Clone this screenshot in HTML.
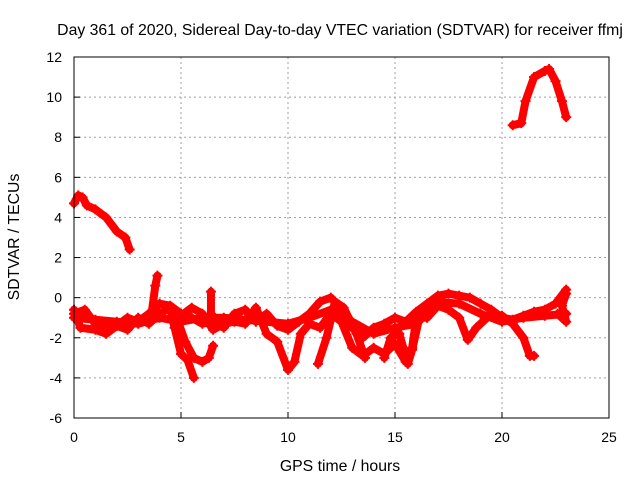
<!DOCTYPE html>
<html><head><meta charset="utf-8"><style>
body{margin:0;background:#fff}
svg text{font-family:"Liberation Sans",sans-serif;font-size:14px;fill:#000}
svg text.big{font-size:15.8px}
</style></head><body>
<svg id="chart" width="640" height="480" viewBox="0 0 640 480" xmlns="http://www.w3.org/2000/svg">
<rect width="640" height="480" fill="#fff"/>
<g id="grid"></g>
<g id="series"></g>
<rect x="74" y="57" width="535" height="361" fill="none" stroke="#000" stroke-width="1"/>
<g id="ticks"></g>
<text class="big" x="340" y="35" text-anchor="middle">Day 361 of 2020, Sidereal Day-to-day VTEC variation (SDTVAR) for receiver ffmj</text>
<text class="big" x="340" y="471" text-anchor="middle">GPS time / hours</text>
<text class="big" transform="translate(19,237) rotate(-90)" text-anchor="middle">SDTVAR / TECUs</text>
</svg>
<script>
const xTicks=[0,5,10,15,20,25];
const yTicks=[-6,-4,-2,0,2,4,6,8,10,12];
const trackTopLeft=[[0,4.7],[0.2,5.1],[0.4,5.0],[0.6,4.6],[1,4.4],[1.5,4.0],[2,3.3],[2.4,3.0],[2.6,2.4]];
const trackTopRight=[[20.5,8.6],[20.9,8.7],[21.1,9.8],[21.5,11.0],[22,11.3],[22.2,11.4],[22.5,10.8],[22.8,9.8],[23,9.0]];
const trackUpper=[[0,-0.8],[0.5,-0.6],[1,-1.3],[1.5,-1.5],[2,-1.4],[2.5,-1.0],[3,-1.2],[3.5,-0.8],[4,-0.3],[4.5,-0.4],[5,-0.8],[5.5,-1.0],[6,-1.3],[6.5,-1.2],[7,-1.5],[7.5,-0.8],[8,-0.6],[8.5,-1.2],[9,-0.8],[9.5,-1.4],[10,-1.6],[10.5,-1.2],[11,-0.8],[11.5,-0.2],[12,0],[12.5,-0.6],[13,-1.5],[13.5,-2.0],[14,-1.5],[14.5,-1.3],[15,-1.0],[15.5,-1.2],[16,-0.7],[16.5,-0.3],[17,0.1],[17.5,0.2],[18,0.1],[18.5,0.0],[19,-0.3],[19.5,-0.6],[20,-1.0],[20.5,-1.1],[21,-0.9],[21.5,-0.7],[22,-0.6],[22.5,-0.3],[23,0.4]];
const trackLower=[[0,-0.6],[0.3,-1.5],[1,-1.6],[1.5,-1.8],[2,-1.4],[2.5,-1.6],[3,-1.0],[3.5,-1.3],[4,-0.8],[4.5,-0.5],[5,-0.9],[5.5,-0.5],[6,-0.8],[6.5,-1.6],[7,-1.3],[7.5,-1.2],[8,-1.3],[8.5,-0.5],[9,-1.8],[9.5,-2.2],[10,-3.6],[10.3,-3.2],[10.6,-1.8],[11,-1.3],[11.5,-1.5],[12,-0.8],[12.5,-1.2],[13,-2.5],[13.5,-2.9],[14,-2.5],[14.5,-2.8],[15,-2.3],[15.5,-3.2],[15.8,-2.5],[16,-1.0],[16.5,-1.0],[17,-0.4],[17.5,-0.6],[18,-1.0],[18.4,-2.1],[18.8,-1.5],[19.5,-0.8],[20,-0.9],[20.5,-1.3],[21,-2.0],[21.3,-2.9],[21.5,-2.9]];
const trackMiddle=[[0,-1.0],[1,-1.1],[2,-1.2],[3,-1.3],[4,-1.0],[5,-1.2],[6,-1.0],[7,-1.0],[8,-1.1],[9,-1.2],[10,-1.3],[11,-1.0],[12,-0.6],[13,-1.2],[14,-1.8],[15,-1.5],[16,-1.3],[17,-0.2],[18,-0.3],[19,-0.8],[20,-1.2],[21,-1.0],[22,-0.9],[23,-0.8]];
const trackSpike=[[3.6,-1.0],[3.8,0.6],[3.9,1.1]];
const trackDipA=[[4.5,-0.6],[4.7,-1.5],[5,-2.8],[5.3,-3.1],[5.6,-4.0]];
const trackDipB=[[4.8,-1.0],[5.2,-2.2],[5.6,-3.0],[6,-3.2],[6.3,-3.0],[6.5,-2.4]];
const trackSmallSpike=[[6.4,-0.8],[6.4,0.3]];
const trackMidA=[[11.4,-3.3],[11.8,-2.0],[12.2,-0.2],[12.6,-0.5],[13.2,-1.8],[13.6,-3.0]];
const trackMidB=[[14.5,-3.0],[14.8,-2.0],[15.2,-1.8],[15.6,-3.3],[15.8,-2.6],[16.2,-0.7]];
const trackEnd=[[22.6,-0.8],[23,-1.2],[22.8,-0.4],[23,0.2]];
const tracks=[trackTopLeft,trackTopRight,trackUpper,trackLower,trackMiddle,trackSpike,trackDipA,trackDipB,trackSmallSpike,trackMidA,trackMidB,trackEnd];

const NS='http://www.w3.org/2000/svg';
const X0=74,X1=609,Y0=418,Y1=57;
const sx=h=>X0+(h-0)/(25-0)*(X1-X0);
const sy=v=>Y0-(v-(-6))/(12-(-6))*(Y0-Y1);
const grid=document.getElementById('grid'),ticks=document.getElementById('ticks'),ser=document.getElementById('series');
function mk(tag,at,parent){const e=document.createElementNS(NS,tag);for(const k in at)e.setAttribute(k,at[k]);parent.appendChild(e);return e;}
xTicks.forEach(t=>{const x=sx(t);
 if(t>0&&t<25){const g=mk('line',{x1:x,x2:x,y1:Y1,y2:Y0,stroke:'#a0a0a0','stroke-dasharray':'2,3'},grid);
 
 }
 const tk=mk('line',{x1:x,x2:x,y1:Y0,y2:Y0-6,stroke:'#000'},ticks);
 
 
 const tx=mk('text',{x:x,y:Y0+24,'text-anchor':'middle'},ticks);tx.textContent=t;
 
 });
yTicks.forEach(t=>{const y=sy(t);
 if(t>-6&&t<12){const g=mk('line',{x1:X0,x2:X1,y1:y,y2:y,stroke:'#a0a0a0','stroke-dasharray':'2,3'},grid);
 
 }
 const tk=mk('line',{x1:X0,x2:X0+6,y1:y,y2:y,stroke:'#000'},ticks);
 
 
 const tx=mk('text',{x:X0-12,y:y+5,'text-anchor':'end'},ticks);tx.textContent=t;
 
 });
tracks.forEach(tr=>{
 const pl=mk('polyline',{points:tr.map(p=>sx(p[0])+','+sy(p[1])).join(' '),fill:'none',stroke:'#ff0000','stroke-width':8,'stroke-linejoin':'round','stroke-linecap':'round'},ser);
 
 
 tr.forEach(p=>{const x=sx(p[0]),y=sy(p[1]);
  const m=mk('path',{d:`M${x-5},${y}H${x+5}M${x},${y-5}V${y+5}`,stroke:'#ff0000','stroke-width':2},ser);
  
  });
});
</script>
</body></html>
